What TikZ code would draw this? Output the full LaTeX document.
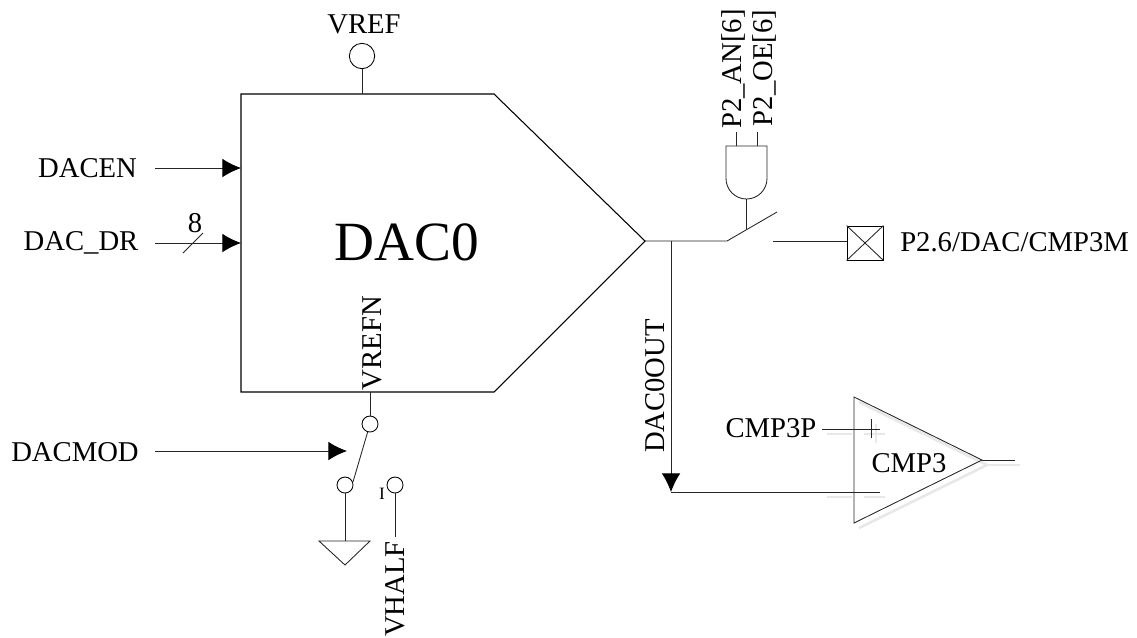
\documentclass[tikz,border=0pt]{standalone}
\usepackage{fontspec}
\setmainfont{Liberation Serif}
\usetikzlibrary{arrows.meta}
\tikzset{
  x=0.75pt,y=-0.75pt,
  wire/.style={line width=0.65pt,draw=black!85},
  shade/.style={line width=2pt,draw=black!9},
  arr/.style={wire,-{Latex[length=14pt,width=14pt,color=black,fill=black]}},
  lbl/.style={inner sep=0pt,font=\fontsize{21.5}{21.5}\selectfont},
  term/.style={circle,draw=black,line width=0.65pt,inner sep=0pt,minimum size=12pt,fill=white},
}
\begin{document}
\begin{tikzpicture}
\useasboundingbox (0,0) rectangle (1137,637);
% DAC body
\coordinate (b1) at (241,94);
\coordinate (b2) at (494,94);
\coordinate (b3) at (645,241);
\coordinate (b4) at (494,392);
\coordinate (b5) at (241,392);
\draw[line width=0.8pt] (b1) -- (b2) -- (b3) -- (b4) -- (b5) -- cycle;
\node[lbl,font=\fontsize{41.5}{41.5}\selectfont] (dac) at (407,242) {DAC0};
% VREF
\node[term,minimum size=19pt] (vrefc) at (362,56) {};
\coordinate (vrefb) at (362,94);
\draw[wire] (vrefc) -- (vrefb);
\node[lbl] (vref) at (364,24) {VREF};
% inputs
\node[lbl] (dacen) at (87.5,168) {DACEN};
\coordinate (enS) at (155,168);
\coordinate (enE) at (241,168);
\draw[arr] (enS) -- (enE);
\node[lbl] (dacdr) at (81,243) {DAC\_DR};
\coordinate (drS) at (155,243);
\coordinate (drE) at (241,243);
\draw[arr] (drS) -- (drE);
\coordinate (s1) at (183,253);
\coordinate (s2) at (203,233);
\draw[wire] (s1) -- (s2);
\node[lbl] (eight) at (195,223) {8};
% VREFN and bottom switch
\node[lbl,rotate=90] (vrefn) at (372.5,343) {VREFN};
\coordinate (swT) at (370,392);
\node[term] (c1) at (370,424) {};
\node[term] (c2) at (345,485) {};
\node[term] (c3) at (395,485) {};
\draw[wire] (swT) -- (c1);
\draw[wire] (c1) -- (c2.20);
\node[lbl] (dacmod) at (75,452) {DACMOD};
\coordinate (modS) at (155,451);
\coordinate (modE) at (347,451);
\draw[arr] (modS) -- (modE);
\coordinate (g1) at (319,541);
\coordinate (g2) at (370,541);
\coordinate (g3) at (345,565);
\draw[wire] (g1) -- (g2) -- (g3) -- cycle;
\draw[wire] (c2) -- (345,541);
\coordinate (vhE) at (395,537);
\draw[wire] (c3) -- (vhE);
\node[inner sep=0pt,font=\fontsize{13}{13}\selectfont] (one) at (382,494) {I};
\node[lbl,rotate=90,anchor=east] (vhalf) at (395,541) {VHALF};
% output path and switch
\coordinate (o1) at (727,241);
\coordinate (o2) at (777,212);
\coordinate (jn) at (671,241);
\draw[wire] (b3) -- (o1) -- (o2);
\node[draw=black,line width=0.65pt,minimum width=27pt,minimum height=25.5pt,inner sep=0pt] (pad) at (865,243) {};
\draw[wire] (pad.north west) -- (pad.south east);
\draw[wire] (pad.south west) -- (pad.north east);
\coordinate (o3) at (773,241);
\draw[wire] (o3) -- (o3 -| pad.west);
\node[lbl,anchor=west] (padl) at (900,242) {P2.6/DAC/CMP3M};
% AND gate
\coordinate (a1) at (726,146);
\coordinate (a2) at (767,146);
\coordinate (am) at (746.5,199);
\coordinate (ax) at (746.5,229);
\draw[wire] (a1) -- (726,178.5) arc[start angle=180,end angle=0,radius=20.5] -- (a2) -- cycle;
\draw[wire] (am) -- (ax);
\coordinate (i1) at (736,146);
\coordinate (i1t) at (736,132);
\coordinate (i2) at (757,146);
\coordinate (i2t) at (757,132);
\draw[wire] (i1) -- (i1t);
\draw[wire] (i2) -- (i2t);
\node[lbl,rotate=90] (an) at (733,69) {P2\_AN[6]};
\node[lbl,rotate=90] (oe) at (764,68) {P2\_OE[6]};
% DAC0OUT
\coordinate (tip) at (671,492);
\draw[arr] (jn) -- (tip);
\node[lbl,rotate=90] (out) at (655,386) {DAC0OUT};
% comparator shadows
\draw[shade] (859,528) -- (987,465) -- (859,402);
\draw[shade] (987,465) -- (1020,465);
\draw[shade] (827,434) -- (852,434);
\draw[shade] (827,497) -- (852,497);
\draw[shade] (864,434) -- (885,434);
\draw[shade] (864,497) -- (885,497);
\draw[shade] (876,424) -- (876,443);
% comparator
\coordinate (t1) at (854,397);
\coordinate (t2) at (854,523);
\coordinate (t3) at (982,460);
\draw[wire] (t1) -- (t3) -- (t2) -- cycle;
\coordinate (pS) at (822,429);
\coordinate (pE) at (880,429);
\coordinate (pa) at (871,419);
\coordinate (pb) at (871,438);
\draw[wire] (pS) -- (pE);
\draw[wire] (pa) -- (pb);
\coordinate (mE) at (880,492);
\draw[wire] (tip) -- (mE);
\coordinate (oo) at (1015,460);
\draw[wire] (t3) -- (oo);
\node[lbl] (cp) at (771,428) {CMP3P};
\node[lbl] (c3l) at (909,463) {CMP3};
\end{tikzpicture}
\end{document}
